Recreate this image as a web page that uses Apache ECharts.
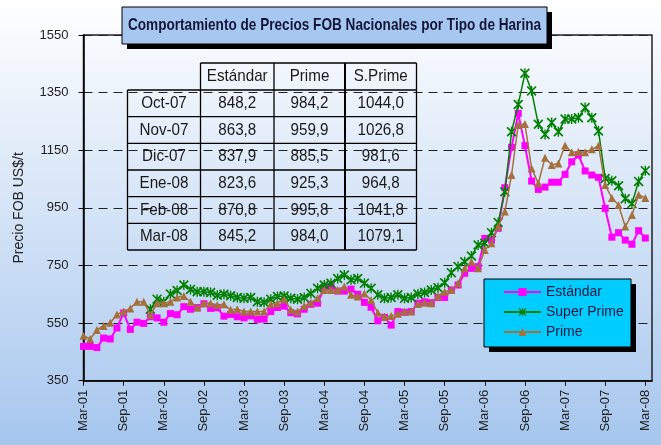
<!DOCTYPE html>
<html><head><meta charset="utf-8">
<script src="https://cdn.jsdelivr.net/npm/echarts@6/dist/echarts.min.js"></script>
<style>html,body{margin:0;padding:0;background:#fff;}#c{width:661px;height:445px;}</style>
</head><body><div id="c"></div>
<script>
const categories = [
'Mar-01','Abr-01','May-01','Jun-01','Jul-01','Ago-01','Sep-01','Oct-01','Nov-01','Dic-01',
'Ene-02','Feb-02','Mar-02','Abr-02','May-02','Jun-02','Jul-02','Ago-02','Sep-02','Oct-02','Nov-02','Dic-02',
'Ene-03','Feb-03','Mar-03','Abr-03','May-03','Jun-03','Jul-03','Ago-03','Sep-03','Oct-03','Nov-03','Dic-03',
'Ene-04','Feb-04','Mar-04','Abr-04','May-04','Jun-04','Jul-04','Ago-04','Sep-04','Oct-04','Nov-04','Dic-04',
'Ene-05','Feb-05','Mar-05','Abr-05','May-05','Jun-05','Jul-05','Ago-05','Sep-05','Oct-05','Nov-05','Dic-05',
'Ene-06','Feb-06','Mar-06','Abr-06','May-06','Jun-06','Jul-06','Ago-06','Sep-06','Oct-06','Nov-06','Dic-06',
'Ene-07','Feb-07','Mar-07','Abr-07','May-07','Jun-07','Jul-07','Ago-07','Sep-07','Oct-07','Nov-07','Dic-07',
'Ene-08','Feb-08','Mar-08'];

const estandar = [469,469,465,498,495,533,585,528,553,549,
572,568,553,583,579,607,598,604,617,601,
603,574,580,572,568,575,563,564,590,604,
609,586,582,598,615,619,671,677,661,661,
668,650,622,605,558,570,543,590,587,590,
619,624,621,639,639,665,682,723,740,746,
844,838,879,1020,1160,1278,1166,1043,1014,1022,
1039,1039,1066,1110,1133,1078,1064,1056,948,848.2,
863.8,837.9,823.6,870.8,845.2];

const superPrime = [null,null,null,null,null,null,null,null,null,null,
598,633,624,651,663,682,667,659,659,656,
647,650,645,639,636,639,624,622,633,642,
644,636,633,639,653,671,682,688,705,717,
700,705,688,671,648,636,639,648,636,639,
651,656,665,673,690,725,746,763,783,821,
827,864,899,1006,1214,1309,1417,1356,1240,1205,
1246,1214,1258,1258,1263,1298,1263,1217,1052,1044.0,
1026.8,981.6,964.8,1041.8,1079.1];

const prime = [506,495,526,540,551,580,590,601,624,624,
578,619,619,624,639,644,624,603,619,619,
613,615,596,598,590,590,590,590,615,619,
633,596,590,609,621,636,665,665,665,677,
648,642,653,630,586,572,575,582,590,590,
616,621,619,644,659,665,688,740,763,740,
804,827,885,937,1064,1238,1241,1087,1035,1124,
1099,1104,1166,1143,1145,1143,1153,1166,1029,984.2,
959.9,885.5,925.3,995.8,984.0];

const tableHeaders = ['Estándar','Prime','S.Prime'];
const tableMonths = ['Oct-07','Nov-07','Dic-07','Ene-08','Feb-08','Mar-08'];
const tableEstandar = ['848,2','863,8','837,9','823,6','870,8','845,2'];
const tablePrime = ['984,2','959,9','885,5','925,3','995,8','984,0'];
const tableSPrime = ['1044,0','1026,8','981,6','964,8','1041,8','1079,1'];

const titleText = 'Comportamiento de Precios FOB Nacionales por Tipo de Harina';
const yName = 'Precio FOB US$/t';

const FONT = "'Liberation Sans', Arial, sans-serif";
// six-armed asterisk (X with a vertical bar), drawn as filled bars
const STAR = 'path://M4.3,0L5.7,0L5.7,10L4.3,10Z M1.2,0L10,8.8L8.8,10L0,1.2Z M8.8,0L10,1.2L1.2,10L0,8.8Z';

// ---- table graphics ----
const colX = [127.5, 200.5, 274, 345, 416.5];
const rowY = [63, 90, 116.7, 143.3, 170, 196.7, 223.3, 250];
const g = [];
function ln(x1,y1,x2,y2,w){ g.push({type:'line', z:30, shape:{x1,y1,x2,y2}, style:{stroke:'#000', lineWidth:w||1.3}}); }
function tx(x,y,t){ g.push({type:'text', z:31, x:x, y:y, scaleX:0.95, scaleY:1.05, style:{text:t, fill:'#1a1a1a', font:'16px ' + FONT, align:'center', verticalAlign:'middle'}}); }
ln(colX[1], rowY[0], colX[4], rowY[0]);
for (let r = 1; r < rowY.length; r++) ln(colX[0], rowY[r], colX[4], rowY[r]);
ln(colX[0], rowY[1], colX[0], rowY[7]);
for (let c = 1; c < colX.length; c++) ln(colX[c], rowY[0], colX[c], rowY[7], c === 3 ? 2 : 1.3);
tableHeaders.forEach((h,i)=>tx((colX[i+1]+colX[i+2])/2, (rowY[0]+rowY[1])/2, h));
const cols = [tableMonths, tableEstandar, tablePrime, tableSPrime];
for (let r = 0; r < tableMonths.length; r++) {
  const cy = (rowY[r+1] + rowY[r+2]) / 2;
  cols.forEach((col, c) => tx((colX[c]+colX[c+1])/2, cy, col[r]));
}
// title box
g.push({type:'rect', z:40, shape:{x:127, y:12, width:425, height:37}, style:{fill:'#000'}});
g.push({type:'rect', z:41, shape:{x:122, y:7, width:425, height:37}, style:{fill:'#a6c8f0', stroke:'#000', lineWidth:1}});
g.push({type:'text', z:42, x:334.5, y:25, scaleX:0.8, scaleY:1, style:{text:titleText, fill:'#15153a', font:'bold 17px ' + FONT, align:'center', verticalAlign:'middle'}});
// legend box
g.push({type:'rect', z:40, shape:{x:489, y:284, width:147, height:68}, style:{fill:'#000'}});
g.push({type:'rect', z:41, shape:{x:484, y:279, width:147, height:68}, style:{fill:'#00ccff', stroke:'#000', lineWidth:1}});

const chart = echarts.init(document.getElementById('c'), null, {renderer:'canvas'});
chart.setOption({
  animation: false,
  backgroundColor: {type:'linear', x:0, y:0, x2:0, y2:1,
    colorStops:[{offset:0, color:'#ffffff'}, {offset:1, color:'#a6c6ee'}]},
  textStyle: {fontFamily: FONT},
  grid: {left:83.5, right:9, top:35, bottom:64.3, show:true, borderColor:'#222', borderWidth:1.5, backgroundColor:'transparent'},
  xAxis: {
    type:'category', data:categories, boundaryGap:false, max:85,
    axisLine:{lineStyle:{color:'#000', width:1.5}},
    axisTick:{show:true, interval:5, length:5, lineStyle:{color:'#000', width:1}},
    axisLabel:{interval:5, rotate:90, fontSize:13, color:'#222', margin:9, fontFamily:FONT},
    splitLine:{show:false}
  },
  yAxis: {
    type:'value', min:350, max:1550, interval:200,
    name:yName, nameLocation:'middle', nameGap:57, nameRotate:90,
    nameTextStyle:{fontSize:14, color:'#222', fontFamily:FONT},
    axisLine:{show:true, lineStyle:{color:'#000', width:1.5}},
    axisTick:{show:true, length:5, lineStyle:{color:'#000'}},
    axisLabel:{fontSize:13, margin:15, color:'#222', fontFamily:FONT, formatter: v => String(v)},
    splitLine:{show:true, lineStyle:{color:'#222', width:1, type:[9,6]}}
  },
  legend: {
    data:['Estándar','Super Prime','Prime'], orient:'vertical', left:503, top:285,
    padding:0, itemWidth:37, itemHeight:10, itemGap:6, z:45,
    textStyle:{fontSize:14, color:'#1a1a40', fontFamily:FONT}
  },
  graphic: g,
  series: [
    {name:'Estándar', type:'line', data:estandar, symbol:'rect', symbolSize:7, showAllSymbol:true,
     itemStyle:{color:'#ff00ff'}, lineStyle:{width:2, color:'#ff00ff'}, z:3},
    {name:'Super Prime', type:'line', data:superPrime, symbol:STAR, symbolSize:10, showAllSymbol:true,
     itemStyle:{color:'#008000'}, lineStyle:{width:1.5, color:'#008000'}, z:4},
    {name:'Prime', type:'line', data:prime, symbol:'triangle', symbolSize:8, showAllSymbol:true,
     itemStyle:{color:'#a5703c'}, lineStyle:{width:1.5, color:'#a5703c'}, z:5}
  ]
});
</script></body></html>
